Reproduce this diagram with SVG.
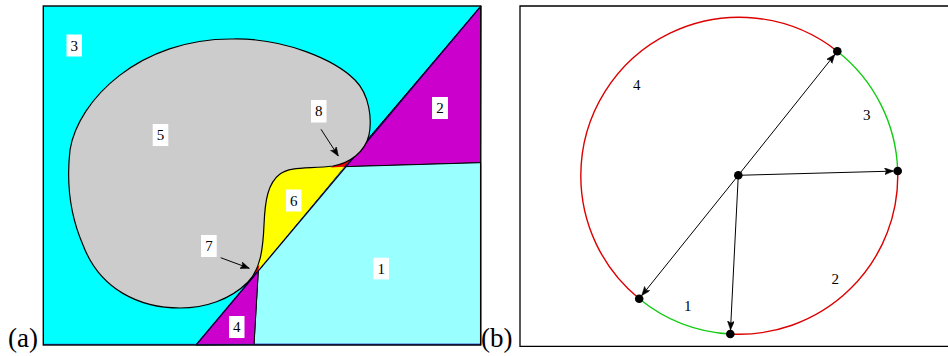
<svg xmlns="http://www.w3.org/2000/svg" width="948" height="356" viewBox="0 0 948 356">
<style>
.lbl{font-family:"Liberation Serif","DejaVu Serif",serif;font-size:15px;fill:#000;text-anchor:middle}
.pl{font-family:"Liberation Serif","DejaVu Serif",serif;font-size:27px;fill:#000}
.box{fill:#fff}
.ptr{stroke:#000;stroke-width:1;fill:none}
.dot{fill:#000}
.red{stroke:#dd0000;stroke-width:1.4;fill:none}
.grn{stroke:#11cc11;stroke-width:1.4;fill:none}
</style>
<defs>
<marker id="ah" markerWidth="10" markerHeight="8" refX="9" refY="3.5" orient="auto" markerUnits="userSpaceOnUse">
<path d="M0,0 L9,3.5 L0,7 L2,3.5 Z" fill="#000" stroke="#000" stroke-width="0.5"/>
</marker>
</defs>
<rect width="948" height="356" fill="#fff"/>

<!-- Panel (a) -->
<g id="panel-a">
<g id="region3"><rect x="43.3" y="6" width="437.4" height="339" fill="#00ffff"/></g>
<g id="region2"><polygon points="481,6 480.6,162.7 344.3,166.7" fill="#cc00cc" stroke="#000" stroke-width="1"/></g>
<g id="region1"><polygon points="344.3,166.7 480.6,162.7 480.6,344.5 254,344.5 258.3,270.7" fill="#99ffff" stroke="#000" stroke-width="1"/>
<polyline points="480.6,162.7 480.6,344.5 254,344.5" fill="none" stroke="#3344cc" stroke-width="1.3"/></g>
<g id="region4"><polygon points="196,345 258.3,270.7 254,344.5" fill="#cc00cc" stroke="#000" stroke-width="1"/></g>
<g id="region6"><polygon points="344.3,166.7 258.3,270.7 252,270.7 252,166.7" fill="#ffff00"/></g>
<g id="region7"><polygon points="248.9,282 258.3,270.7 259.5,265 250,274" fill="#ee0000"/></g>
<g id="region8"><polygon points="331,167.5 344.3,166.7 354,156 338,160" fill="#ee0000"/></g>
<line x1="481" y1="6" x2="196" y2="345" stroke="#000040" stroke-width="1.3"/>
<g id="region5"><path d="M233,39 C285,38 335,60 355,80 C370,95 372,120 369,135 C365,152 350,163 333,166 C310,169 290,166 280,174 C268,183 265,200 264,225 C263,250 260,270 248,282 C230,300 205,308 180,308 C140,308 100,290 83,245 C70,215 66,185 70,150 C78,100 140,38 233,39 Z" fill="#cccccc" stroke="#000" stroke-width="1.2"/></g>
<line x1="43.3" y1="344.3" x2="480.6" y2="344.3" stroke="#3344cc" stroke-width="1"/>
<rect x="43.3" y="6" width="437.4" height="339" fill="none" stroke="#000" stroke-width="1.4"/>
<g id="arrows-a">
<line class="ptr" x1="321" y1="129.3" x2="338.3" y2="156" marker-end="url(#ah)"/>
<line class="ptr" x1="220.7" y1="257.7" x2="249.3" y2="268.3" marker-end="url(#ah)"/>
</g>
<g id="lbl-a3"><rect class="box" x="66.5" y="34.5" width="15.5" height="22"/><text class="lbl" x="74.3" y="50.5">3</text></g>
<g id="lbl-a5"><rect class="box" x="152.7" y="124" width="15.6" height="22"/><text class="lbl" x="160.5" y="140">5</text></g>
<g id="lbl-a8"><rect class="box" x="311" y="100" width="15.5" height="22.5"/><text class="lbl" x="318.7" y="116.3">8</text></g>
<g id="lbl-a2"><rect class="box" x="432" y="97" width="16" height="22"/><text class="lbl" x="440" y="113">2</text></g>
<g id="lbl-a6"><rect class="box" x="286" y="189.5" width="15.5" height="22"/><text class="lbl" x="293.8" y="205.5">6</text></g>
<g id="lbl-a7"><rect class="box" x="201" y="235" width="15.7" height="22"/><text class="lbl" x="208.9" y="251">7</text></g>
<g id="lbl-a1"><rect class="box" x="373.3" y="257.7" width="15.7" height="21.7"/><text class="lbl" x="381.2" y="273.6">1</text></g>
<g id="lbl-a4"><rect class="box" x="229" y="316" width="15.5" height="22"/><text class="lbl" x="236.8" y="332">4</text></g>
<text class="pl" x="8" y="347">(a)</text>
</g>

<!-- Panel (b) -->
<g id="panel-b">
<polyline points="948,6 520,6 520,346.3 948,346.3" fill="none" stroke="#000" stroke-width="1.3"/>
<text class="pl" x="481" y="347">(b)</text>
<g id="arc2"><path class="red" d="M897.7,171 A158.5,158.5 0 0 1 730.3,334"/></g>
<g id="arc1"><path class="grn" d="M730.3,334 A158.5,158.5 0 0 1 639.2,298.7"/></g>
<g id="arc4"><path class="red" d="M639.2,298.7 A158.5,158.5 0 0 1 580.8,175.8 A158.5,158.5 0 0 1 837.3,51.2"/></g>
<g id="arc3"><path class="grn" d="M837.3,51.2 A158.5,158.5 0 0 1 897.7,171"/></g>
<g id="connectors-b">
<line class="ptr" x1="738.3" y1="175.3" x2="834.8" y2="54.5" marker-end="url(#ah)"/>
<line class="ptr" x1="738.3" y1="175.3" x2="893.5" y2="171.1" marker-end="url(#ah)"/>
<line class="ptr" x1="738.3" y1="175.3" x2="730.5" y2="330" marker-end="url(#ah)"/>
<line class="ptr" x1="738.3" y1="175.3" x2="641.7" y2="295.6" marker-end="url(#ah)"/>
</g>
<g id="node-center"><circle class="dot" cx="738.3" cy="175.3" r="4.3"/></g>
<g id="node-p1"><circle class="dot" cx="837.3" cy="51.2" r="4.3"/></g>
<g id="node-p2"><circle class="dot" cx="897.7" cy="171" r="4.3"/></g>
<g id="node-p3"><circle class="dot" cx="730.3" cy="334" r="4.3"/></g>
<g id="node-p4"><circle class="dot" cx="639.2" cy="298.7" r="4.3"/></g>
<text class="lbl" x="636.7" y="90">4</text>
<text class="lbl" x="866.7" y="119.5">3</text>
<text class="lbl" x="835.3" y="283.5">2</text>
<text class="lbl" x="687.7" y="311">1</text>
</g>
</svg>
